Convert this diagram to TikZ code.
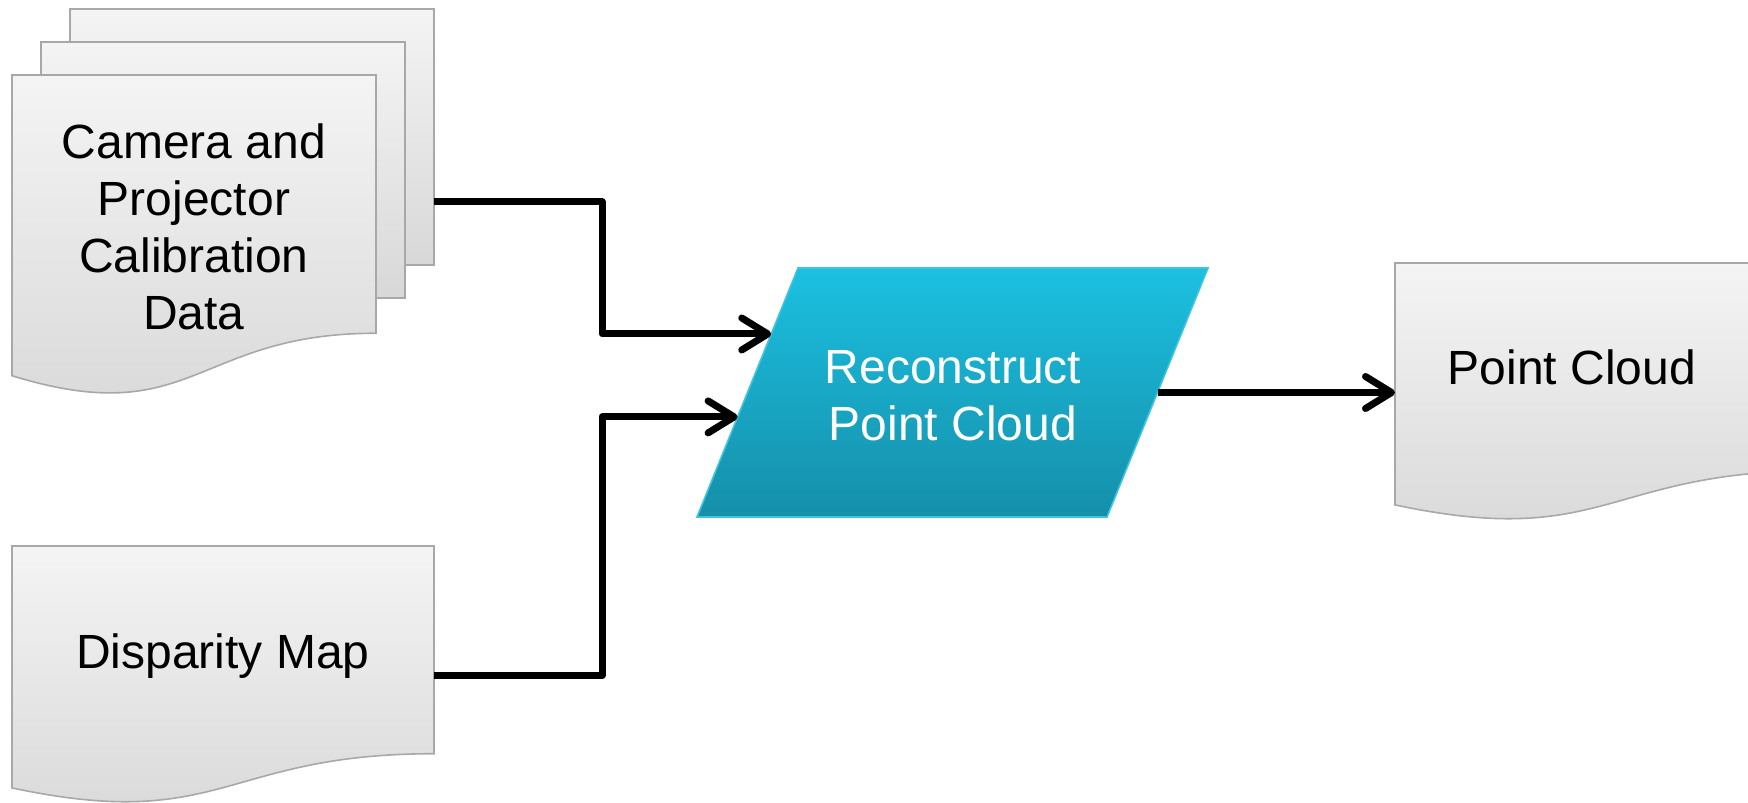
\documentclass[tikz,border=0pt]{standalone}
\usepackage{fontspec}
\setmainfont{Liberation Sans}
\usetikzlibrary{arrows.meta,calc}

\definecolor{paperTop}{HTML}{F4F4F4}
\definecolor{paperBot}{HTML}{D8D8D8}
\definecolor{paperLine}{HTML}{A8A8A8}
\definecolor{procTop}{HTML}{1CC0E1}
\definecolor{procBot}{HTML}{158FA9}
\definecolor{procLine}{HTML}{3FC4DF}

% document shape with a wavy lower edge, drawn over the frame of node #1
\newcommand\wavepaper[1]{%
  \path[paperfill] let \p1=(#1.north west), \p2=(#1.south east), \n1={\y1-\y2} in
    (\x1,\y1) -- (\x2,\y1) -- (\x2,{\y1-0.802*\n1})
    .. controls ({0.5*(\x1+\x2)},{\y1-0.802*\n1}) and ({0.5*(\x1+\x2)},{\y1-1.1075*\n1})
    .. (\x1,{\y1-0.934*\n1}) -- cycle;}

\tikzset{
  paperfill/.style={top color=paperTop, bottom color=paperBot, draw=paperLine, line width=0.8pt},
  procfill/.style={top color=procTop, bottom color=procBot, draw=procLine, line width=0.8pt},
  docframe/.style={inner sep=0pt, outer sep=0pt},
  doctext/.style={font=\fontsize{24}{28.6}\selectfont, align=center, text=black, inner sep=0pt},
  proctext/.style={doctext, text=white},
  flow/.style={line width=3.5pt, line join=round,
    -{Straight Barb[length=13pt,width=16pt,round]}},
}

\begin{document}
\begin{tikzpicture}[x=0.5pt,y=-0.5pt]
\useasboundingbox (0,0) rectangle (1748,802);
\clip (0,0) rectangle (1748,802);

% frames of the documents
\node[docframe, minimum width=182pt, minimum height=128pt] (calibBack) at (252,137) {};
\node[docframe, minimum width=182pt, minimum height=128pt] (calibMid) at (223,170) {};
\node[docframe, minimum width=182pt, minimum height=161pt] (calibFront) at (194,236) {};
\node[docframe, minimum width=211pt, minimum height=129.5pt] (disp) at (223,675.5) {};
\node[docframe, minimum width=211pt, minimum height=129.5pt] (cloud) at (1606,392.5) {};

% stacked calibration documents
\path[paperfill] (calibBack.north west) rectangle (calibBack.south east);
\path[paperfill] (calibMid.north west) rectangle (calibMid.south east);
\wavepaper{calibFront}
\wavepaper{disp}
\wavepaper{cloud}

% process parallelogram
\coordinate (pTL) at (798,268);
\coordinate (pTR) at (1208,268);
\coordinate (pBR) at (1107,517);
\coordinate (pBL) at (697,517);
\path[procfill] (pTL) -- (pTR) -- (pBR) -- (pBL) -- cycle;

% texts
\node[doctext] (calibText) at (194,227) {Camera and\\Projector\\Calibration\\Data};
\node[doctext, anchor=base] (dispText) at (223,668) {Disparity Map};
\node[doctext, anchor=base] (cloudText) at (1572,384) {Point Cloud};
\node[proctext] (recon) at (953,396) {Reconstruct\\Point Cloud};

% connector end points
\coordinate (inA) at ($(pTL)!0.265!(pBL)$);
\coordinate (inB) at ($(pTL)!0.598!(pBL)$);
\coordinate (outC) at ($(pTR)!0.5!(pBR)$);
\coordinate (calibOut) at ($(calibBack.east)+(0,65)$);
\coordinate (trunk) at (602,400);

% connectors
\draw[flow] (calibOut) -| (trunk |- inA) -- (inA);
\draw[flow] (disp.east) -| (trunk |- inB) -- (inB);
\draw[flow] (outC) -- (cloud.west);
\end{tikzpicture}
\end{document}
